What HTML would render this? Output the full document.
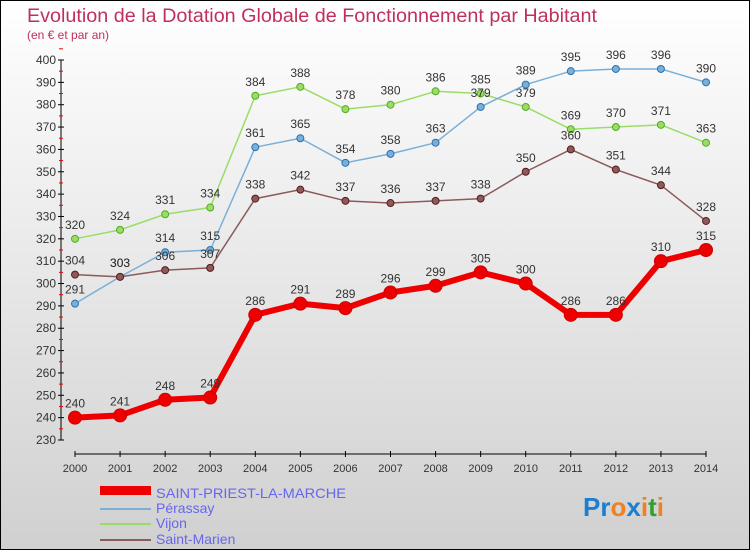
<!DOCTYPE html>
<html><head><meta charset="utf-8"><style>
body{margin:0;width:750px;height:550px;overflow:hidden;font-family:"Liberation Sans",sans-serif}
</style></head><body>
<svg width="750" height="550" xmlns="http://www.w3.org/2000/svg">
<defs><linearGradient id="bg" x1="0" y1="0" x2="0" y2="1"><stop offset="0" stop-color="#ffffff"/><stop offset="1" stop-color="#d0d0d0"/></linearGradient></defs>
<rect x="0.5" y="0.5" width="749" height="549" fill="url(#bg)" stroke="#000"/>
<text x="27" y="22" font-size="19" fill="#c0305a" textLength="570" lengthAdjust="spacingAndGlyphs">Evolution de la Dotation Globale de Fonctionnement par Habitant</text>
<text x="27" y="39" font-size="12" fill="#c0305a">(en € et par an)</text>
<g id="axes"></g><g id="series"></g>
<g>
<rect x="100" y="486" width="51" height="9" fill="#e00"/>
<text x="156" y="498" font-size="14" fill="#6666ee" textLength="190" lengthAdjust="spacingAndGlyphs">SAINT-PRIEST-LA-MARCHE</text>
<line x1="100" y1="509" x2="151" y2="509" stroke="#7ab0d8" stroke-width="2"/>
<text x="156" y="513" font-size="14" fill="#6666ee">Pérassay</text>
<line x1="100" y1="524" x2="151" y2="524" stroke="#99dd66" stroke-width="2"/>
<text x="156" y="528" font-size="14" fill="#6666ee">Vijon</text>
<line x1="100" y1="540" x2="151" y2="540" stroke="#8b5a5a" stroke-width="2"/>
<text x="156" y="544" font-size="14" fill="#6666ee">Saint-Marien</text>
</g>
<text x="583" y="516" font-size="26" font-weight="bold"><tspan fill="#1a7fd0">Pr</tspan><tspan fill="#f08020">o</tspan><tspan fill="#1a7fd0">x</tspan><tspan fill="#f08020">i</tspan><tspan fill="#30a030">t</tspan><tspan fill="#f08020">i</tspan></text>
</svg>
<script>
const years=[2000,2001,2002,2003,2004,2005,2006,2007,2008,2009,2010,2011,2012,2013,2014];
const yTicks=[230,240,250,260,270,280,290,300,310,320,330,340,350,360,370,380,390,400];
const saintPriest=[240,241,248,249,286,291,289,296,299,305,300,286,286,310,315];
const perassay=[291,303,314,315,361,365,354,358,363,379,389,395,396,396,390];
const vijon=[320,324,331,334,384,388,378,380,386,385,379,369,370,371,363];
const saintMarien=[304,303,306,307,338,342,337,336,337,338,350,360,351,344,328];
const NS="http://www.w3.org/2000/svg";
const X=i=>75+i*(706-75)/(years.length-1);
const Y=v=>440-(v-230)*(380/170);
function mk(t,a,p){const e=document.createElementNS(NS,t);for(const k in a)e.setAttribute(k,a[k]);p.appendChild(e);return e;}
const ax=document.getElementById('axes');
const ya=mk('line',{x1:61,y1:60,x2:61,y2:440,stroke:'#000'},ax);


yTicks.forEach(v=>{mk('line',{x1:58,y1:Y(v),x2:64,y2:Y(v),stroke:'#000'},ax);
 mk('line',{x1:59,y1:Y(v+5),x2:63,y2:Y(v+5),stroke:'#e00'},ax);
 const t=mk('text',{x:56,y:Y(v)+4,'font-size':12,fill:'#333','text-anchor':'end'},ax);t.textContent=v;
 
 });
const xa=mk('line',{x1:75,y1:454,x2:706,y2:454,stroke:'#000'},ax);


years.forEach((y,i)=>{mk('line',{x1:X(i),y1:451,x2:X(i),y2:457,stroke:'#000'},ax);
 const t=mk('text',{x:X(i),y:472,'font-size':11,fill:'#333','text-anchor':'middle'},ax);t.textContent=y;
 
 });
const sg=document.getElementById('series');
function draw(vals,color,w,r,name,dark){
 const g=mk('g',{},sg);
 
 
 mk('polyline',{points:vals.map((v,i)=>X(i)+','+Y(v)).join(' '),fill:'none',stroke:color,'stroke-width':w,'stroke-linejoin':'round'},g);
 vals.forEach((v,i)=>{const c=mk('circle',{cx:X(i),cy:Y(v),r:r,fill:color,stroke:dark,'stroke-width':1},g);
  
  
  const t=mk('text',{x:X(i),y:Y(v)-10,'font-size':12,fill:'#333','text-anchor':'middle'},g);t.textContent=v;
  
  });
}
draw(vijon,'#99dd66',1.5,3.5,'series-vijon','#55aa22');
draw(perassay,'#7ab0d8',1.5,3.5,'series-perassay','#2a70b0');
draw(saintMarien,'#8b5a5a',1.5,3.5,'series-saint-marien','#5a1a1a');
draw(saintPriest,'#ee0000',6,6.5,'series-saint-priest','#cc0000');
</script>
</body></html>
